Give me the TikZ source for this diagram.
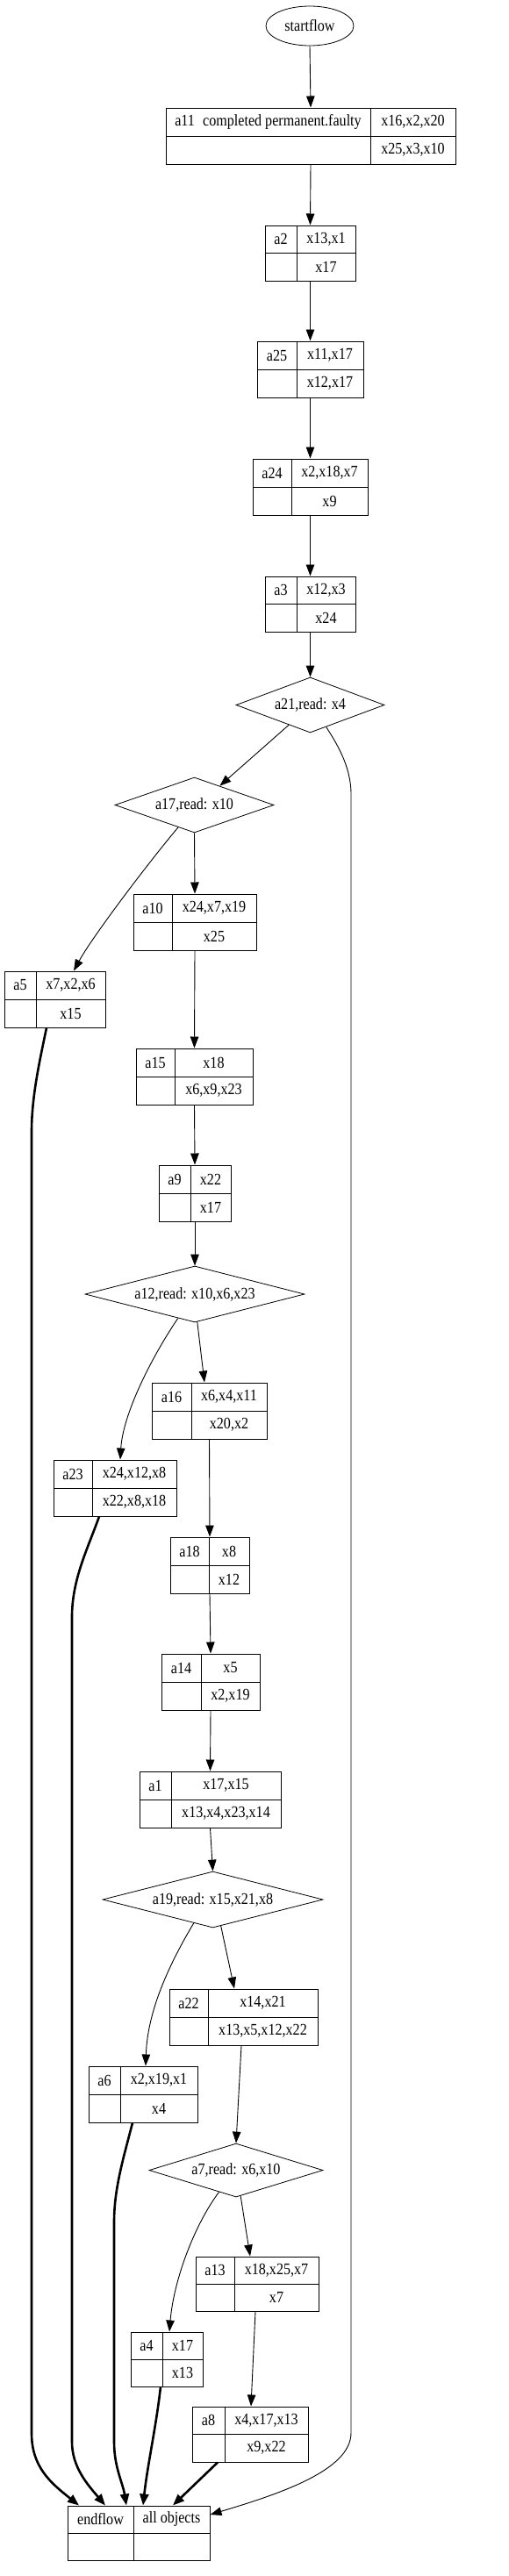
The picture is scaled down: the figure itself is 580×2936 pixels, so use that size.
\documentclass[tikz,border=0pt]{standalone}
\usepackage{fontspec}
\setmainfont{Liberation Serif}[FakeStretch=0.87]
\usetikzlibrary{shapes.geometric,arrows.meta,calc}
\tikzset{
  every node/.style={font=\fontsize{18.5}{21}\selectfont, inner sep=0pt},
  recbox/.style={draw, rectangle, line width=1pt},
  dia/.style={draw, diamond, aspect=3.5, line width=0.8pt},
  oval/.style={draw, ellipse, line width=0.8pt},
  conn/.style={line width=0.9pt, -{Triangle[length=13pt,width=9.5pt]}},
  heavy/.style={line width=2.6pt, -{Triangle[length=13pt,width=10pt]}},
}
% name, x1, y1, xdiv, x2, y2, label, top, bottom
\newcommand\recnode[9]{%
  \pgfmathsetmacro\rw{#5-#2}%
  \pgfmathsetmacro\rh{#6-#3}%
  \pgfmathsetmacro\rcx{(#2+#5)/2}%
  \pgfmathsetmacro\rcy{(#3+#6)/2}%
  \node[recbox, minimum width=\rw pt, minimum height=\rh pt] (#1) at (\rcx,\rcy) {};
  \draw[line width=1pt] (#4,#3) -- (#4,#6) (#2,\rcy) -- (#5,\rcy);
  \node (#1-l) at ({(#2+#4)/2},{(3*#3+#6)/4}) {#7};
  \node (#1-t) at ({(#4+#5)/2},{(3*#3+#6)/4}) {#8};
  \node (#1-b) at ({(#4+#5)/2},{(#3+3*#6)/4}) {#9};
}
\begin{document}
\begin{tikzpicture}[x=1pt,y=-1pt]
\path[fill=white, use as bounding box] (0,0) rectangle (580,2936);

\node[oval, minimum width=100pt, minimum height=45pt] (start) at (353,29.5) {startflow};

\recnode{a11}{189}{123}{422}{519}{187}{a11\enspace completed permanent.faulty}{x16,x2,x20}{x25,x3,x10}
\recnode{a2}{302}{257}{338}{405}{320}{a2}{x13,x1}{x17}
\recnode{a25}{293}{389}{338}{414}{453}{a25}{x11,x17}{x12,x17}
\recnode{a24}{288}{523}{332}{419}{587}{a24}{x2,x18,x7}{x9}
\recnode{a3}{302}{657}{338}{405}{720}{a3}{x12,x3}{x24}
\recnode{a10}{152}{1019}{196}{292}{1083}{a10}{x24,x7,x19}{x25}
\recnode{a5}{5}{1107}{41}{120}{1171}{a5}{x7,x2,x6}{x15}
\recnode{a15}{155}{1195}{199}{288}{1259}{a15}{x18}{x6,x9,x23}
\recnode{a9}{181}{1328}{217}{263}{1392}{a9}{x22}{x17}
\recnode{a16}{173}{1576}{218}{304}{1640}{a16}{x6,x4,x11}{x20,x2}
\recnode{a23}{61}{1664}{105}{201}{1728}{a23}{x24,x12,x8}{x22,x8,x18}
\recnode{a18}{194}{1752}{238}{284}{1816}{a18}{x8}{x12}
\recnode{a14}{184}{1885}{229}{296}{1949}{a14}{x5}{x2,x19}
\recnode{a1}{159}{2019}{195}{320}{2083}{a1}{x17,x15}{x13,x4,x23,x14}
\recnode{a22}{193}{2267}{237}{362}{2331}{a22}{x14,x21}{x13,x5,x12,x22}
\recnode{a6}{101}{2355}{137}{225}{2419}{a6}{x2,x19,x1}{x4}
\recnode{a13}{223}{2572}{267}{363}{2634}{a13}{x18,x25,x7}{x7}
\recnode{a4}{149}{2658}{185}{231}{2720}{a4}{x17}{x13}
\recnode{a8}{219}{2743}{256}{351}{2806}{a8}{x4,x17,x13}{x9,x22}
\recnode{endflow}{77}{2856}{152}{239}{2918}{endflow}{all objects}{}

\node[dia, minimum width=169pt, minimum height=63pt] (a21) at (353.5,803.5) {a21,read: x4};
\node[dia, minimum width=181pt, minimum height=63pt] (a17) at (221.5,917.5) {a17,read: x10};
\node[dia, minimum width=250pt, minimum height=64pt] (a12) at (222,1475) {a12,read: x10,x6,x23};
\node[dia, minimum width=251pt, minimum height=64pt] (a19) at (242.5,2165) {a19,read: x15,x21,x8};
\node[dia, minimum width=198pt, minimum height=61pt] (a7) at (269,2473.5) {a7,read: x6,x10};

% thin connectors
\draw[conn] (start.south) -- (a11.north);
\draw[conn] (a11.south) -- (a2.north);
\draw[conn] (a2.south) -- (a25.north);
\draw[conn] (a25.south) -- (a24.north);
\draw[conn] (a24.south) -- (a3.north);
\draw[conn] (a3.south) -- (a21.north);
\draw[conn] (a21.-137) -- (a17.37);
\draw[conn] (a21.-54) .. controls (382,845) and (400,872) .. (400,905) -- (400,2773) .. controls (400,2815) and (320,2842) .. ([yshift=21pt]endflow.east);
\draw[conn] (a17.-126) .. controls (170,982) and (105,1068) .. ([xshift=21.5pt]a5.north);
\draw[conn] (a17.south) -- (a10.north);
\draw[conn] (a10.south) -- (a15.north);
\draw[conn] (a15.south) -- (a9.north);
\draw[conn] (a9.south) -- (a12.north);
\draw[conn] (a12.-125) .. controls (172,1548) and (140,1612) .. ([xshift=6pt]a23.north);
\draw[conn] (a12.-85) -- ([xshift=-5.5pt]a16.north);
\draw[conn] (a16.south) -- (a18.north);
\draw[conn] (a18.south) -- (a14.north);
\draw[conn] (a14.south) -- (a1.north);
\draw[conn] (a1.south) -- (a19.north);
\draw[conn] (a19.-129) .. controls (195,2235) and (168,2290) .. ([xshift=3pt]a6.north);
\draw[conn] (a19.-73) -- ([xshift=-10.5pt]a22.north);
\draw[conn] ([xshift=-2.5pt]a22.south) -- (a7.north);
\draw[conn] (a7.-128) .. controls (222,2535) and (198,2598) .. ([xshift=3pt]a4.north);
\draw[conn] (a7.-80) -- ([xshift=-8pt]a13.north);
\draw[conn] ([xshift=-2pt]a13.south) -- ([xshift=1pt]a8.north);

% heavy connectors
\draw[heavy] ([xshift=-9.5pt]a5.south) .. controls (45,1210) and (36,1250) .. (36,1290) -- (36,2773) .. controls (36,2812) and (58,2830) .. ([xshift=-68pt]endflow.north);
\draw[heavy] ([xshift=-18pt]a23.south) .. controls (100,1765) and (82,1800) .. (82,1843) -- (82,2783) .. controls (82,2812) and (100,2832) .. ([xshift=-38pt]endflow.north);
\draw[heavy] ([xshift=-12pt]a6.south) .. controls (140,2462) and (130,2495) .. (130,2533) -- (130,2783) .. controls (130,2812) and (140,2830) .. ([xshift=-14pt]endflow.north);
\draw[heavy] ([xshift=-7pt]a4.south) .. controls (178,2765) and (168,2810) .. ([xshift=5pt]endflow.north);
\draw[heavy] ([xshift=-37pt]a8.south) -- ([xshift=39pt]endflow.north);
\end{tikzpicture}
\end{document}
